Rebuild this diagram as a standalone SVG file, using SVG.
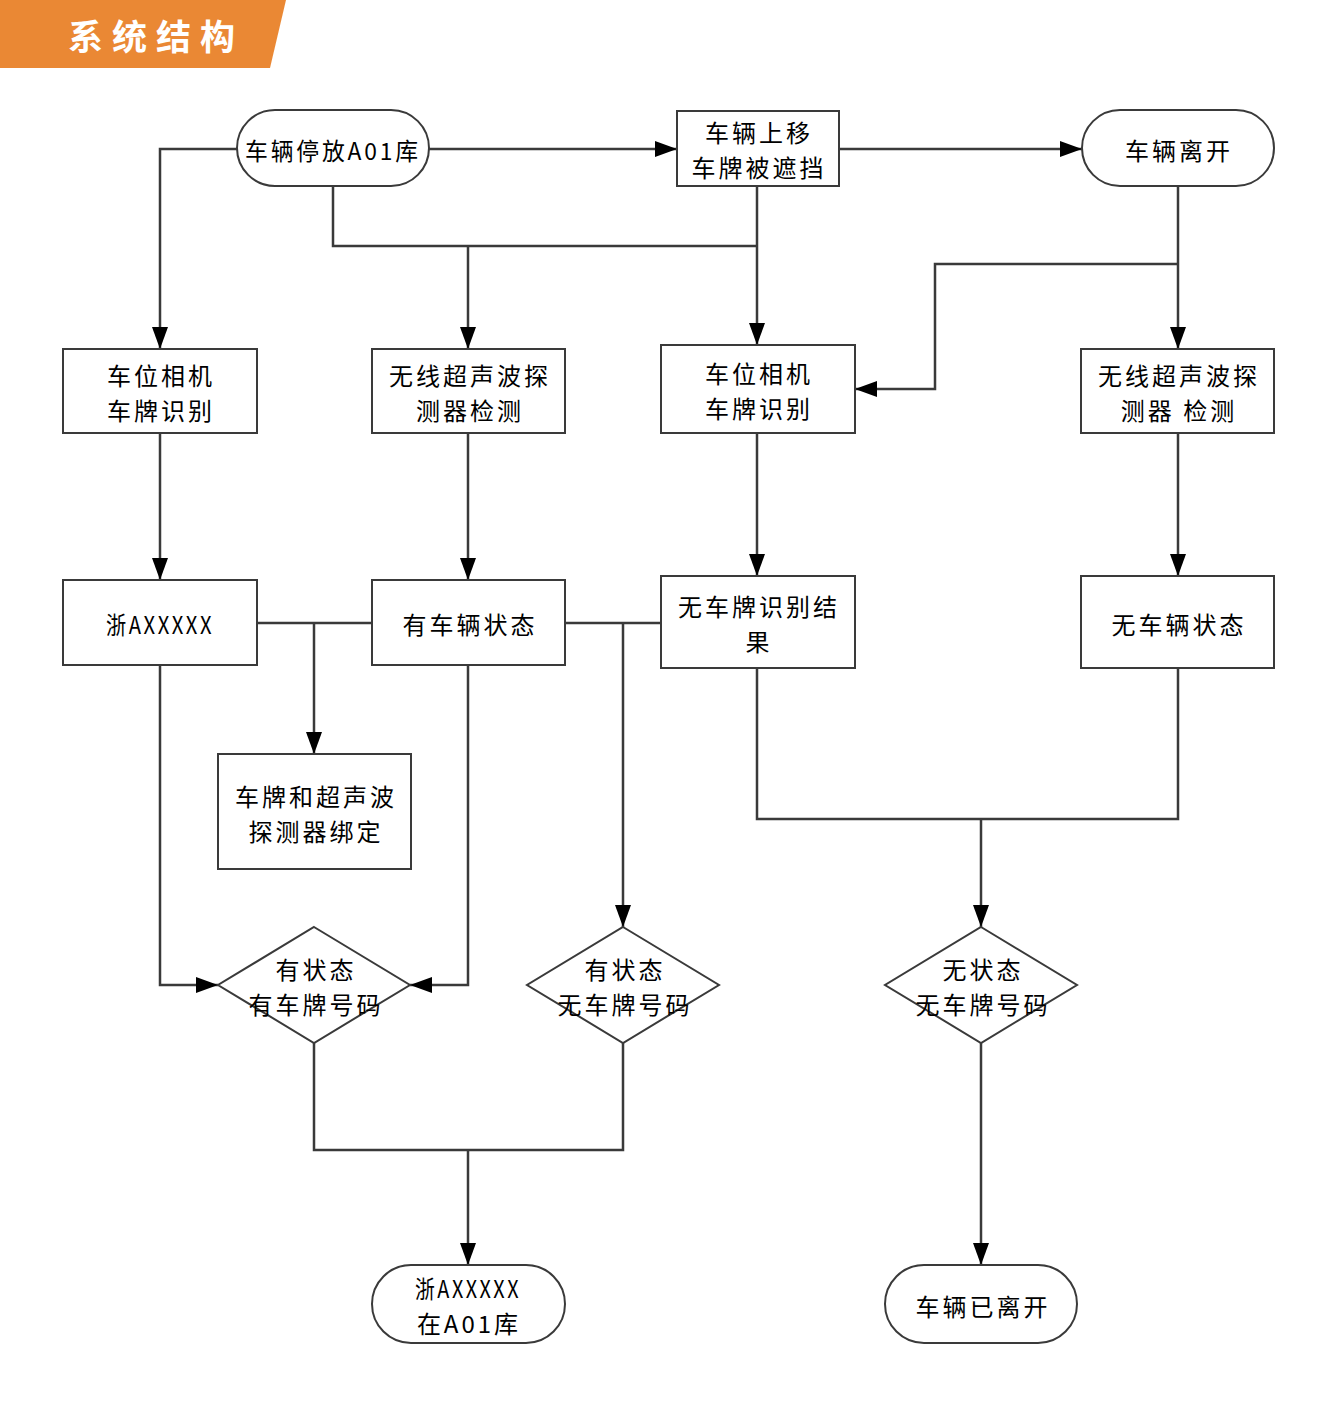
<svg xmlns="http://www.w3.org/2000/svg" width="1338" height="1418" viewBox="0 0 1338 1418">
<style>
.n{fill:#fff;stroke:#3a3a3a;stroke-width:2}
.t{font-family:"Noto Sans CJK SC","Liberation Sans",sans-serif;font-size:24px;letter-spacing:3px;fill:#000;text-anchor:middle;dominant-baseline:central}
.c{fill:none;stroke:#3a3a3a;stroke-width:2.5}
</style>
<defs>
<marker id="ar" markerUnits="userSpaceOnUse" markerWidth="24" markerHeight="16" refX="22" refY="8" orient="auto">
<path d="M0,0 L22,8 L0,16 Z" fill="#000"/>
</marker>
</defs>
<rect width="1338" height="1418" fill="#fff"/>
<g id="header">
<polygon points="0,0 286,0 270,68 0,68" fill="#EA8834"/>
<text x="156" y="34" font-family="Noto Sans CJK SC,sans-serif" font-weight="bold" font-size="35" fill="#fff" text-anchor="middle" dominant-baseline="central" letter-spacing="9">系统结构</text>
</g>
<g id="connectors">
<path class="c" d="M237,149 H160 V349" marker-end="url(#ar)"/>
<path class="c" d="M429,149 H677" marker-end="url(#ar)"/>
<path class="c" d="M839,149 H1082" marker-end="url(#ar)"/>
<path class="c" d="M333,186 V246 H757"/>
<path class="c" d="M468,246 V349" marker-end="url(#ar)"/>
<path class="c" d="M757,186 V345" marker-end="url(#ar)"/>
<path class="c" d="M1178,186 V349" marker-end="url(#ar)"/>
<path class="c" d="M1178,264 H935 V389 H855" marker-end="url(#ar)"/>
<path class="c" d="M160,433 V580" marker-end="url(#ar)"/>
<path class="c" d="M468,433 V580" marker-end="url(#ar)"/>
<path class="c" d="M757,433 V576" marker-end="url(#ar)"/>
<path class="c" d="M1178,433 V576" marker-end="url(#ar)"/>
<path class="c" d="M257,623 H372"/>
<path class="c" d="M314,623 V754" marker-end="url(#ar)"/>
<path class="c" d="M565,623 H661"/>
<path class="c" d="M623,623 V927" marker-end="url(#ar)"/>
<path class="c" d="M160,665 V985 H218" marker-end="url(#ar)"/>
<path class="c" d="M468,665 V985 H410" marker-end="url(#ar)"/>
<path class="c" d="M757,668 V819 H1178 V668"/>
<path class="c" d="M981,819 V927" marker-end="url(#ar)"/>
<path class="c" d="M314,1043 V1150 H623 V1043"/>
<path class="c" d="M468,1150 V1265" marker-end="url(#ar)"/>
<path class="c" d="M981,1043 V1265" marker-end="url(#ar)"/>
</g>
<g id="nA"><rect class="n" x="237" y="110" width="192" height="76" rx="38"/><text class="t" x="333" y="149" textLength="176" lengthAdjust="spacingAndGlyphs">车辆停放A01库</text></g>
<g id="nB"><rect class="n" x="677" y="111" width="162" height="75"/><text class="t" x="759" y="131">车辆上移</text><text class="t" x="759" y="166">车牌被遮挡</text></g>
<g id="nC"><rect class="n" x="1082" y="110" width="192" height="76" rx="38"/><text class="t" x="1179" y="149">车辆离开</text></g>
<g id="nD"><rect class="n" x="63" y="349" width="194" height="84"/><text class="t" x="161" y="374">车位相机</text><text class="t" x="161" y="409">车牌识别</text></g>
<g id="nE"><rect class="n" x="372" y="349" width="193" height="84"/><text class="t" x="470" y="374">无线超声波探</text><text class="t" x="470" y="409">测器检测</text></g>
<g id="nF"><rect class="n" x="661" y="345" width="194" height="88"/><text class="t" x="759" y="372">车位相机</text><text class="t" x="759" y="407">车牌识别</text></g>
<g id="nG"><rect class="n" x="1081" y="349" width="193" height="84"/><text class="t" x="1179" y="374">无线超声波探</text><text class="t" x="1179" y="409">测器 检测</text></g>
<g id="nH"><rect class="n" x="63" y="580" width="194" height="85"/><text class="t" x="160" y="623" textLength="108" lengthAdjust="spacingAndGlyphs">浙AXXXXX</text></g>
<g id="nI"><rect class="n" x="372" y="580" width="193" height="85"/><text class="t" x="470" y="623">有车辆状态</text></g>
<g id="nJ"><rect class="n" x="661" y="576" width="194" height="92"/><text class="t" x="759" y="605">无车牌识别结</text><text class="t" x="759" y="640">果</text></g>
<g id="nK"><rect class="n" x="1081" y="576" width="193" height="92"/><text class="t" x="1179" y="623">无车辆状态</text></g>
<g id="nL"><rect class="n" x="218" y="754" width="193" height="115"/><text class="t" x="316" y="795">车牌和超声波</text><text class="t" x="316" y="830">探测器绑定</text></g>
<g id="nM"><polygon class="n" points="314,927 410,985 314,1043 218,985"/><text class="t" x="316" y="968">有状态</text><text class="t" x="316" y="1003">有车牌号码</text></g>
<g id="nN"><polygon class="n" points="623,927 719,985 623,1043 527,985"/><text class="t" x="625" y="968">有状态</text><text class="t" x="625" y="1003">无车牌号码</text></g>
<g id="nO"><polygon class="n" points="981,927 1077,985 981,1043 885,985"/><text class="t" x="983" y="968">无状态</text><text class="t" x="983" y="1003">无车牌号码</text></g>
<g id="nP"><rect class="n" x="372" y="1265" width="193" height="78" rx="39"/><text class="t" x="468" y="1287" textLength="106" lengthAdjust="spacingAndGlyphs">浙AXXXXX</text><text class="t" x="469" y="1322">在A01库</text></g>
<g id="nQ"><rect class="n" x="885" y="1265" width="192" height="78" rx="39"/><text class="t" x="983" y="1305">车辆已离开</text></g>
</svg>
